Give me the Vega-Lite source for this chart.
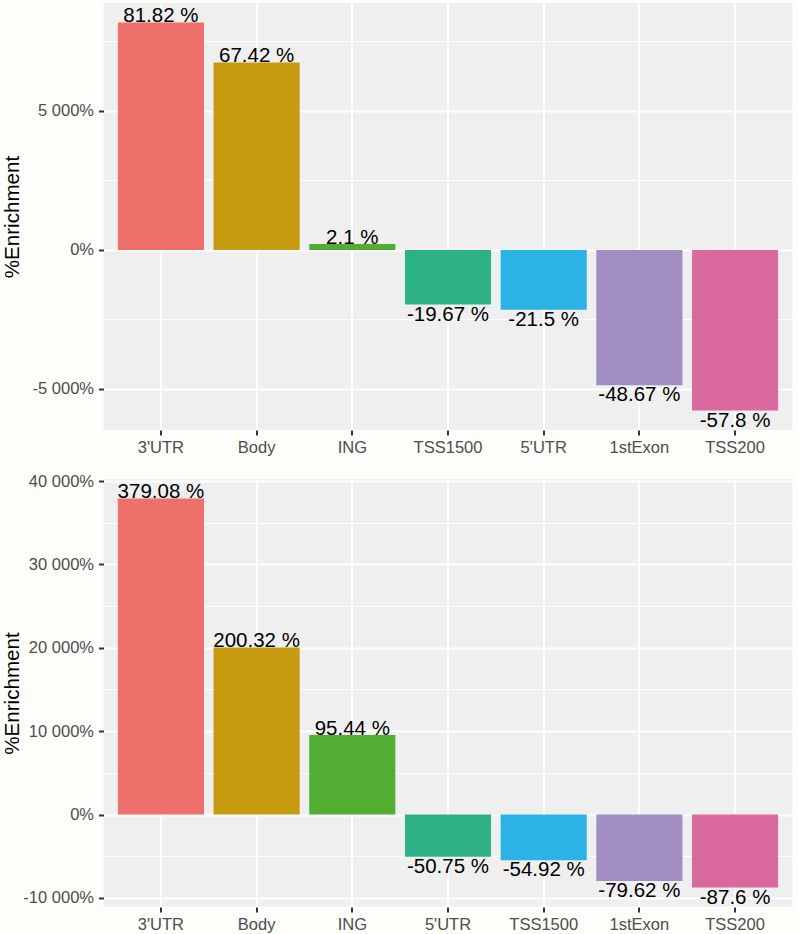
{
  "$schema": "https://vega.github.io/schema/vega-lite/v6.json",
  "background": "#fdfdfa",
  "padding": {"left": 2.5, "top": 3, "right": 5, "bottom": 3},
  "config": {
    "locale": {"number": {"decimal": ".", "thousands": " ", "grouping": [3], "currency": ["", ""], "minus": "-"}},
    "view": {"fill": "#efefef", "stroke": null},
    "axis": {
      "labelFont": "Liberation Sans", "labelFontSize": 16.5, "labelColor": "#4d4d4d",
      "tickColor": "#333333", "tickSize": 5, "tickWidth": 2, "domain": false,
      "gridColor": "#ffffff", "gridWidth": 2,
      "titleFont": "Liberation Sans", "titleFontSize": 20.6, "titleColor": "#000000", "titleFontWeight": "normal"
    },
    "text": {"font": "Liberation Sans", "fontSize": 20.5, "color": "#000000"}
  },
  "datasets": {
    "p1": [
      {"region": "3'UTR", "v": 81.82},
      {"region": "Body", "v": 67.42},
      {"region": "ING", "v": 2.1},
      {"region": "TSS1500", "v": -19.67},
      {"region": "5'UTR", "v": -21.5},
      {"region": "1stExon", "v": -48.67},
      {"region": "TSS200", "v": -57.8}
    ],
    "p2": [
      {"region": "3'UTR", "v": 379.08},
      {"region": "Body", "v": 200.32},
      {"region": "ING", "v": 95.44},
      {"region": "5'UTR", "v": -50.75},
      {"region": "TSS1500", "v": -54.92},
      {"region": "1stExon", "v": -79.62},
      {"region": "TSS200", "v": -87.6}
    ]
  },
  "concat": [
    {
      "data": {"name": "p1"},
      "width": 689, "height": 427,
      "transform": [{"calculate": "replace(format(datum.v, '.2~f'), '\u2212', '-') + ' %'", "as": "lab"}],
      "encoding": {
        "x": {"field": "region", "type": "nominal", "sort": null,
          "scale": {"paddingInner": 0.1, "paddingOuter": 0.15},
          "axis": {"title": null, "labelAngle": 0, "bandPosition": 0.5, "grid": true, "labelPadding": 4}}
      },
      "layer": [
        {
          "mark": {"type": "bar"},
          "encoding": {
            "y": {"field": "v", "type": "quantitative", "scale": {"domain": [-64.78, 88.8], "nice": false, "zero": false},
              "axis": {"values": [-50, 0, 50], "format": ",.0%", "title": "%Enrichment", "grid": true, "labelPadding": 5, "titlePadding": 9.2}},
            "y2": {"datum": 0},
            "color": {"field": "region", "type": "nominal", "legend": null,
              "scale": {"domain": ["3'UTR", "Body", "ING", "TSS1500", "5'UTR", "1stExon", "TSS200"],
                "range": ["#ee706a", "#c79b10", "#52ae32", "#2db187", "#2cb3e5", "#a18ec3", "#da69a0"]}}
          }
        },
        {
          "transform": [{"filter": "datum.v >= 0"}],
          "mark": {"type": "text", "baseline": "alphabetic", "dy": 0},
          "encoding": {
            "y": {"field": "v", "type": "quantitative", "scale": {"domain": [-64.78, 88.8], "nice": false, "zero": false},
              "axis": {"orient": "right", "values": [-25, 25, 75], "grid": true, "gridWidth": 1, "labels": false, "ticks": false, "domain": false, "title": null}},
            "text": {"field": "lab"}
          }
        },
        {
          "transform": [{"filter": "datum.v < 0"}],
          "mark": {"type": "text", "baseline": "top", "dy": 0},
          "encoding": {
            "y": {"field": "v", "type": "quantitative", "scale": {"domain": [-64.78, 88.8], "nice": false, "zero": false}, "axis": null},
            "text": {"field": "lab"}
          }
        }
      ],
      "resolve": {"axis": {"y": "independent"}}
    },
    {
      "data": {"name": "p2"},
      "width": 689, "height": 428,
      "transform": [{"calculate": "replace(format(datum.v, '.2~f'), '\u2212', '-') + ' %'", "as": "lab"}],
      "encoding": {
        "x": {"field": "region", "type": "nominal", "sort": null,
          "scale": {"paddingInner": 0.1, "paddingOuter": 0.15},
          "axis": {"title": null, "labelAngle": 0, "bandPosition": 0.5, "grid": true, "labelPadding": 4}}
      },
      "layer": [
        {
          "mark": {"type": "bar"},
          "encoding": {
            "y": {"field": "v", "type": "quantitative", "scale": {"domain": [-110.93, 402.41], "nice": false, "zero": false},
              "axis": {"values": [-100, 0, 100, 200, 300, 400], "format": ",.0%", "title": "%Enrichment", "grid": true, "labelPadding": 5, "titlePadding": 0}},
            "y2": {"datum": 0},
            "color": {"field": "region", "type": "nominal", "legend": null,
              "scale": {"domain": ["3'UTR", "Body", "ING", "5'UTR", "TSS1500", "1stExon", "TSS200"],
                "range": ["#ee706a", "#c79b10", "#52ae32", "#2db187", "#2cb3e5", "#a18ec3", "#da69a0"]}}
          }
        },
        {
          "transform": [{"filter": "datum.v >= 0"}],
          "mark": {"type": "text", "baseline": "alphabetic", "dy": 0},
          "encoding": {
            "y": {"field": "v", "type": "quantitative", "scale": {"domain": [-110.93, 402.41], "nice": false, "zero": false},
              "axis": {"orient": "right", "values": [-50, 50, 150, 250, 350], "grid": true, "gridWidth": 1, "labels": false, "ticks": false, "domain": false, "title": null}},
            "text": {"field": "lab"}
          }
        },
        {
          "transform": [{"filter": "datum.v < 0"}],
          "mark": {"type": "text", "baseline": "top", "dy": 0},
          "encoding": {
            "y": {"field": "v", "type": "quantitative", "scale": {"domain": [-110.93, 402.41], "nice": false, "zero": false}, "axis": null},
            "text": {"field": "lab"}
          }
        }
      ],
      "resolve": {"axis": {"y": "independent"}}
    }
  ],
  "columns": 1,
  "spacing": 17,
  "resolve": {"scale": {"color": "independent"}}
}
